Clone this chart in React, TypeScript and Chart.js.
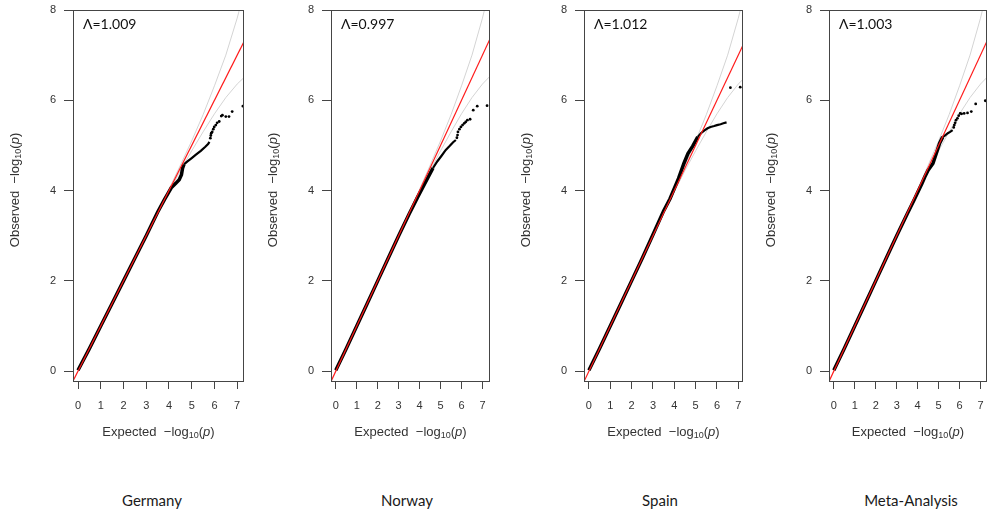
import React, { useEffect, useRef } from "react";
import { Chart, registerables } from "chart.js";

Chart.register(...registerables);

type Pt = [number, number];

const panelNames = ["Germany", "Norway", "Spain", "Meta-Analysis"];
const lambdaValues = [1.009, 0.997, 1.012, 1.003];
const xTickValues = [0, 1, 2, 3, 4, 5, 6, 7];
const yTickValues = [0, 2, 4, 6, 8];

// Observed vs expected -log10(p). "bulk" is the dense run of SNPs drawn as a thick
// stroke, "mid" the thinner run above it, "tail" the isolated top hits.
const germanyBulk: Pt[] = [[0, 0.02], [0.5, 0.5], [1, 1], [1.5, 1.5], [2, 2], [2.5, 2.5], [3, 3], [3.5, 3.52], [3.8, 3.8], [4.1, 4.06], [4.3, 4.16], [4.45, 4.24], [4.55, 4.35], [4.6, 4.5], [4.66, 4.58]];
const germanyMid: Pt[] = [[4.66, 4.58], [4.8, 4.64], [5.0, 4.72], [5.2, 4.8], [5.4, 4.88], [5.6, 4.97], [5.72, 5.03], [5.78, 5.08]];
const germanyTail: Pt[] = [[5.82, 5.16], [5.84, 5.22], [5.86, 5.27], [5.9, 5.3], [5.95, 5.36], [5.99, 5.41], [6.06, 5.45], [6.12, 5.5], [6.21, 5.53], [6.3, 5.65], [6.35, 5.67], [6.5, 5.64], [6.64, 5.64], [6.78, 5.75], [7.25, 5.87]];

const norwayBulk: Pt[] = [[0, 0.02], [0.5, 0.5], [1, 1], [1.5, 1.5], [2, 2], [2.5, 2.5], [3, 3], [3.5, 3.48], [3.9, 3.85], [4.3, 4.2], [4.64, 4.5]];
const norwayMid: Pt[] = [[4.64, 4.5], [4.85, 4.65], [5.03, 4.76], [5.25, 4.9], [5.42, 4.98], [5.6, 5.07], [5.73, 5.12]];
const norwayTail: Pt[] = [[5.78, 5.17], [5.81, 5.23], [5.83, 5.3], [5.9, 5.36], [5.97, 5.41], [6.05, 5.45], [6.13, 5.49], [6.2, 5.52], [6.28, 5.56], [6.41, 5.58], [6.56, 5.78], [6.75, 5.87], [7.22, 5.88]];

const spainBulk: Pt[] = [[0, 0.02], [0.5, 0.5], [1, 1], [1.5, 1.5], [2, 2], [2.5, 2.5], [3, 3.02], [3.5, 3.55], [3.8, 3.82], [4.2, 4.27], [4.45, 4.6], [4.64, 4.82], [4.87, 4.99], [5.1, 5.19]];
const spainMid: Pt[] = [[5.1, 5.19], [5.25, 5.27], [5.4, 5.33], [5.56, 5.38], [5.7, 5.41], [5.87, 5.43], [6.0, 5.45], [6.17, 5.47], [6.3, 5.49], [6.45, 5.51]];
const spainTail: Pt[] = [[6.63, 6.28], [7.09, 6.29]];

const metaBulk: Pt[] = [[0, 0.02], [0.5, 0.5], [1, 1], [1.5, 1.5], [2, 2], [2.5, 2.5], [3, 3], [3.5, 3.48], [3.83, 3.79], [4.2, 4.15], [4.34, 4.3], [4.5, 4.45], [4.73, 4.6], [4.89, 4.82], [5.05, 5.05], [5.2, 5.19]];
const metaMid: Pt[] = [[5.2, 5.19], [5.3, 5.22], [5.44, 5.27], [5.55, 5.3], [5.67, 5.34]];
const metaTail: Pt[] = [[5.72, 5.4], [5.75, 5.45], [5.79, 5.5], [5.83, 5.56], [5.9, 5.6], [5.96, 5.66], [6.03, 5.71], [6.1, 5.7], [6.22, 5.71], [6.38, 5.72], [6.56, 5.75], [6.77, 5.92], [7.23, 5.99]];

// 95% confidence band around the null expectation
const ciUpper: Pt[] = [[0, 0], [2, 2], [3, 3], [3.5, 3.51], [4.0, 4.03], [4.5, 4.56], [5.0, 5.1], [5.5, 5.68], [6.0, 6.32], [6.5, 7.0], [7.0, 7.82], [7.2, 8.2]];
const ciLower: Pt[] = [[0, 0], [2, 2], [3, 3], [3.5, 3.49], [4.0, 3.97], [4.5, 4.44], [5.0, 4.88], [5.5, 5.3], [6.0, 5.7], [6.5, 6.06], [7.0, 6.36], [7.5, 6.6]];

// y = x reference
const nullLine: Pt[] = [[-0.5, -0.5], [8.5, 8.5]];

const bulkSeries = [germanyBulk, norwayBulk, spainBulk, metaBulk];
const midSeries = [germanyMid, norwayMid, spainMid, metaMid];
const tailSeries = [germanyTail, norwayTail, spainTail, metaTail];

// panel frames in page pixels
const panelLayout = [
  { left: 73, right: 247, xMin: -0.22, xMax: 7.3, titleX: 152 },
  { left: 331, right: 493, xMin: -0.23, xMax: 7.36, titleX: 407 },
  { left: 584, right: 746, xMin: -0.23, xMax: 7.22, titleX: 660 },
  { left: 829, right: 990, xMin: -0.23, xMax: 7.31, titleX: 911 },
];

const Y_AXIS_W = 73;
const CANVAS_H = 450;
const PLOT_TOP = 10;
const PLOT_BOTTOM = 382;
const AXIS_COLOR = "#454545";
const TEXT_COLOR = "#333";

const toXY = (pts: Pt[]) => pts.map(([x, y]) => ({ x, y }));

function drawLogLabel(ctx: CanvasRenderingContext2D, word: string, cx: number, cy: number, angle: number) {
  const family = "'Liberation Sans', Arial, sans-serif";
  const pieces = [
    { t: word + "  \u2212log", f: `13px ${family}`, dy: 0 },
    { t: "10", f: `9px ${family}`, dy: 4 },
    { t: "(", f: `13px ${family}`, dy: 0 },
    { t: "p", f: `italic 13px ${family}`, dy: 0 },
    { t: ")", f: `13px ${family}`, dy: 0 },
  ];
  ctx.save();
  ctx.translate(cx, cy);
  ctx.rotate(angle);
  let total = 0;
  const widths = pieces.map((p) => {
    ctx.font = p.f;
    const w = ctx.measureText(p.t).width;
    total += w;
    return w;
  });
  let x = -total / 2;
  ctx.fillStyle = TEXT_COLOR;
  ctx.textAlign = "left";
  ctx.textBaseline = "middle";
  pieces.forEach((p, i) => {
    ctx.font = p.f;
    ctx.fillText(p.t, x, p.dy);
    x += widths[i];
  });
  ctx.restore();
}

const framePlugin = {
  id: "qqFrame",
  afterDraw(chart: any, _args: any, opts: any) {
    const { ctx, chartArea: a } = chart;
    ctx.save();
    ctx.strokeStyle = AXIS_COLOR;
    ctx.lineWidth = 1;
    const l = Math.round(a.left) + 0.5;
    const t = Math.round(a.top) + 0.5;
    const r = Math.round(a.right) - 0.5;
    const b = Math.round(a.bottom) - 0.5;
    ctx.strokeRect(l, t, r - l, b - t);

    ctx.fillStyle = "#111";
    ctx.font = "14px Lato, 'Liberation Sans', sans-serif";
    ctx.textAlign = "left";
    ctx.textBaseline = "middle";
    ctx.fillText(`\u039B=${opts.lambda.toFixed(3)}`, a.left + 10, a.top + 14);
    ctx.restore();

    drawLogLabel(ctx, "Expected", (a.left + a.right) / 2, 432, 0);
    drawLogLabel(ctx, "Observed", a.left - 58, (a.top + a.bottom) / 2 - 6, -Math.PI / 2);
  },
};

// keep the plot frame exactly where the layout puts it: tick labels may overhang
const clearScalePadding = (s: any) => {
  s.paddingTop = 0;
  s.paddingBottom = 0;
  s.paddingLeft = 0;
  s.paddingRight = 0;
};

function QQPanel({ index }: { index: number }) {
  const ref = useRef<HTMLCanvasElement | null>(null);
  const lay = panelLayout[index];
  const width = Y_AXIS_W + (lay.right - lay.left) + 1;

  useEffect(() => {
    if (!ref.current) return;
    const tickFont = { family: "'Liberation Sans', Arial, sans-serif", size: 11 };
    const chart = new Chart(ref.current, {
      type: "scatter",
      data: {
        datasets: [
          {
            data: toXY(nullLine),
            showLine: true,
            borderColor: "#ff1a1a",
            borderWidth: 1.2,
            pointRadius: 0,
          },
          {
            data: toXY(tailSeries[index]),
            showLine: false,
            pointRadius: 1.4,
            pointBackgroundColor: "#000",
            pointBorderWidth: 0,
          },
          {
            data: toXY(midSeries[index]),
            showLine: true,
            borderColor: "#000",
            borderWidth: 2.2,
            pointRadius: 0,
          },
          {
            data: toXY(bulkSeries[index]),
            showLine: true,
            borderColor: "#000",
            borderWidth: 3.5,
            pointRadius: 0,
          },
          {
            data: toXY(ciUpper),
            showLine: true,
            borderColor: "#d4d4d4",
            borderWidth: 1,
            pointRadius: 0,
          },
          {
            data: toXY(ciLower),
            showLine: true,
            borderColor: "#d4d4d4",
            borderWidth: 1,
            pointRadius: 0,
          },
        ],
      },
      options: {
        animation: false,
        responsive: false,
        devicePixelRatio: 1,
        events: [],
        layout: { padding: { top: PLOT_TOP, right: 1, left: 0, bottom: 0 } },
        plugins: {
          legend: { display: false },
          tooltip: { enabled: false },
          qqFrame: { lambda: lambdaValues[index] },
        } as any,
        scales: {
          x: {
            type: "linear",
            min: lay.xMin,
            max: lay.xMax,
            afterBuildTicks: (s: any) => {
              s.ticks = xTickValues.map((value) => ({ value }));
            },
            afterFit: (s: any) => {
              s.height = CANVAS_H - PLOT_BOTTOM;
              clearScalePadding(s);
            },
            grid: { drawOnChartArea: false, drawTicks: true, tickLength: 7, tickColor: AXIS_COLOR, tickWidth: 1 },
            border: { display: false },
            ticks: { color: TEXT_COLOR, font: tickFont, padding: 10, maxRotation: 0, autoSkip: false },
          },
          y: {
            type: "linear",
            min: -0.24,
            max: 8,
            afterBuildTicks: (s: any) => {
              s.ticks = yTickValues.map((value) => ({ value }));
            },
            afterFit: (s: any) => {
              s.width = Y_AXIS_W;
              clearScalePadding(s);
            },
            grid: { drawOnChartArea: false, drawTicks: true, tickLength: 9, tickColor: AXIS_COLOR, tickWidth: 1 },
            border: { display: false },
            ticks: { color: TEXT_COLOR, font: tickFont, padding: 8, autoSkip: false },
          },
        },
      },
      plugins: [framePlugin as any],
    });
    return () => chart.destroy();
  }, [index]);

  return (
    <>
      <canvas
        ref={ref}
        width={width}
        height={CANVAS_H}
        style={{ position: "absolute", left: lay.left - Y_AXIS_W, top: 0, width, height: CANVAS_H }}
      />
      <div
        style={{
          position: "absolute",
          left: lay.titleX,
          top: 490,
          transform: "translateX(-50%)",
          fontFamily: "Lato, 'Liberation Sans', sans-serif",
          fontSize: 15,
          color: "#1a1a1a",
          whiteSpace: "nowrap",
          lineHeight: "20px",
        }}
      >
        {panelNames[index]}
      </div>
    </>
  );
}

export default function App() {
  return (
    <div style={{ position: "absolute", left: 0, top: 0, width: 991, height: 511, background: "#fff", overflow: "hidden" }}>
      {panelNames.map((_, i) => (
        <QQPanel key={i} index={i} />
      ))}
    </div>
  );
}
